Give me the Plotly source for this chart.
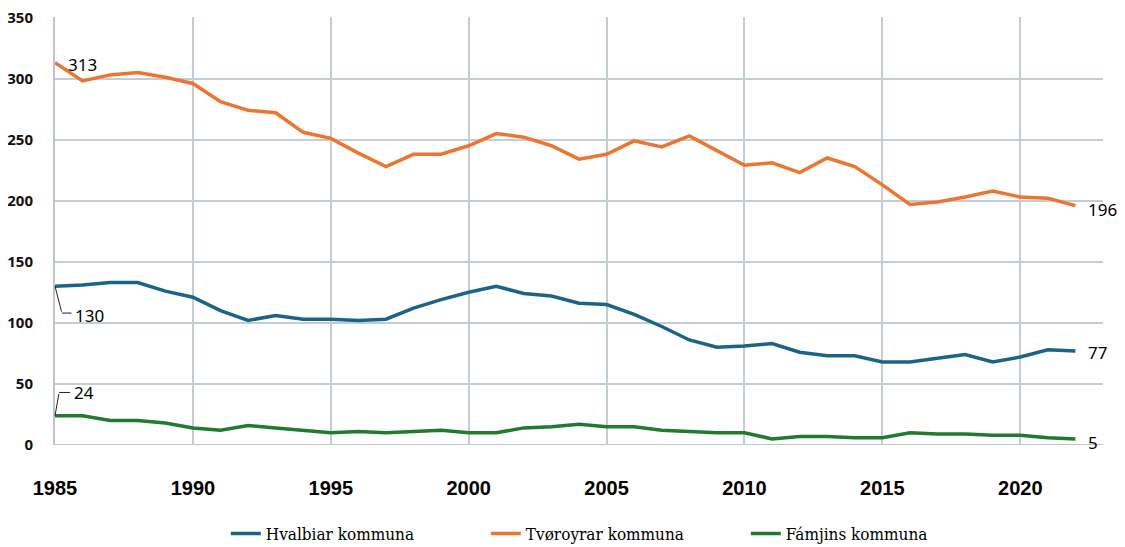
import plotly.graph_objects as go

years = list(range(1985, 2023))
hvalbiar = [130, 131, 133, 133, 126, 121, 110, 102, 106, 103, 103, 102, 103, 112, 119, 125, 130, 124, 122, 116,
            115, 107, 97, 86, 80, 81, 83, 76, 73, 73, 68, 68, 71, 74, 68, 72, 78, 77]
tvoroyrar = [313, 298, 303, 305, 301, 296, 281, 274, 272, 256, 251, 239, 228, 238, 238, 245, 255, 252, 245, 234,
             238, 249, 244, 253, 241, 229, 231, 223, 235, 228, 213, 197, 199, 203, 208, 203, 202, 196]
famjins = [24, 24, 20, 20, 18, 14, 12, 16, 14, 12, 10, 11, 10, 11, 12, 10, 10, 14, 15, 17,
           15, 15, 12, 11, 10, 10, 5, 7, 7, 6, 6, 10, 9, 9, 8, 8, 6, 5]
series_names = ["Hvalbiar kommuna", "Tvøroyrar kommuna", "Fámjins kommuna"]
colors = ["#1B6488", "#ED7532", "#217A2F"]
x_ticks = [1985, 1990, 1995, 2000, 2005, 2010, 2015, 2020]
y_ticks = [0, 50, 100, 150, 200, 250, 300, 350]

fig = go.Figure()
for name, vals, col in zip(series_names, [hvalbiar, tvoroyrar, famjins], colors):
    fig.add_trace(go.Scatter(x=years, y=vals, mode="lines", name=name,
                             line=dict(color=col, width=3.5), cliponaxis=False))

lab_font = dict(family="Noto Sans, Open Sans, sans-serif", size=17, color="#000000")
# start labels
fig.add_annotation(x=years[0], y=tvoroyrar[0], text=str(tvoroyrar[0]), showarrow=False,
                   xanchor="left", yanchor="middle", xshift=11, yshift=-2, font=lab_font)
fig.add_annotation(x=years[0], y=hvalbiar[0], ax=years[0] + 0.25, ay=hvalbiar[0] - 22,
                   axref="x", ayref="y", text="", showarrow=True, arrowhead=0,
                   arrowwidth=1, arrowcolor="#222222")
fig.add_annotation(x=years[0] + 0.25, y=hvalbiar[0] - 22, ax=years[0] + 0.65, ay=hvalbiar[0] - 22,
                   axref="x", ayref="y", text="", showarrow=True, arrowhead=0,
                   arrowwidth=1, arrowcolor="#222222")
fig.add_annotation(x=years[0] + 0.65, y=hvalbiar[0] - 22, text=str(hvalbiar[0]), showarrow=False,
                   xanchor="left", yanchor="middle", xshift=0, yshift=-2, font=lab_font)
fig.add_annotation(x=years[0], y=famjins[0], ax=years[0] + 0.15, ay=famjins[0] + 19,
                   axref="x", ayref="y", text="", showarrow=True, arrowhead=0,
                   arrowwidth=1, arrowcolor="#222222")
fig.add_annotation(x=years[0] + 0.15, y=famjins[0] + 19, ax=years[0] + 0.6, ay=famjins[0] + 19,
                   axref="x", ayref="y", text="", showarrow=True, arrowhead=0,
                   arrowwidth=1, arrowcolor="#222222")
fig.add_annotation(x=years[0] + 0.6, y=famjins[0] + 19, text=str(famjins[0]), showarrow=False,
                   xanchor="left", yanchor="middle", xshift=0, yshift=0, font=lab_font)
# end labels
for vals, ys in [(tvoroyrar, -4), (hvalbiar, -2), (famjins, -4)]:
    fig.add_annotation(x=years[-1], y=vals[-1], text=str(vals[-1]), showarrow=False,
                       xanchor="left", yanchor="middle", xshift=11, yshift=ys, font=lab_font)

fig.update_layout(
    width=1117, height=539,
    margin=dict(l=47, r=22, t=9, b=102, autoexpand=False),
    paper_bgcolor="white", plot_bgcolor="white",
    showlegend=True,
    legend=dict(orientation="h", x=0.163, xanchor="left", y=-0.208, yanchor="middle",
                font=dict(family="DejaVu Serif Condensed, DejaVu Serif, serif", size=17, color="#000000"),
                itemwidth=30, tracegroupgap=0, entrywidth=215),
    xaxis=dict(range=[1985, 2023], tickvals=x_ticks, showgrid=True, gridcolor="#C3CDD5", gridwidth=1.5,
               zeroline=False, showline=False, ticks="", ticklabelstandoff=29, automargin=False,
               tickfont=dict(family="Liberation Sans Narrow, Liberation Sans, sans-serif", size=20,
                             color="#000000", weight="bold")),
    yaxis=dict(range=[0, 350.4], tickvals=y_ticks, showgrid=True, gridcolor="#C3CDD5", gridwidth=1.5,
               zeroline=False, showline=True, linecolor="#BEC4C8", linewidth=2, mirror=False,
               ticks="", ticklabelstandoff=17, automargin=False, ticklabeloverflow="allow",
               tickfont=dict(family="Noto Sans, Open Sans, sans-serif", size=15,
                             color="#111111", weight="bold")),
)
fig.add_shape(type="line", xref="paper", yref="y", x0=0, x1=1, y0=0, y1=0,
              line=dict(color="#BEC4C8", width=2), layer="below")

fig.write_html("out.html")
